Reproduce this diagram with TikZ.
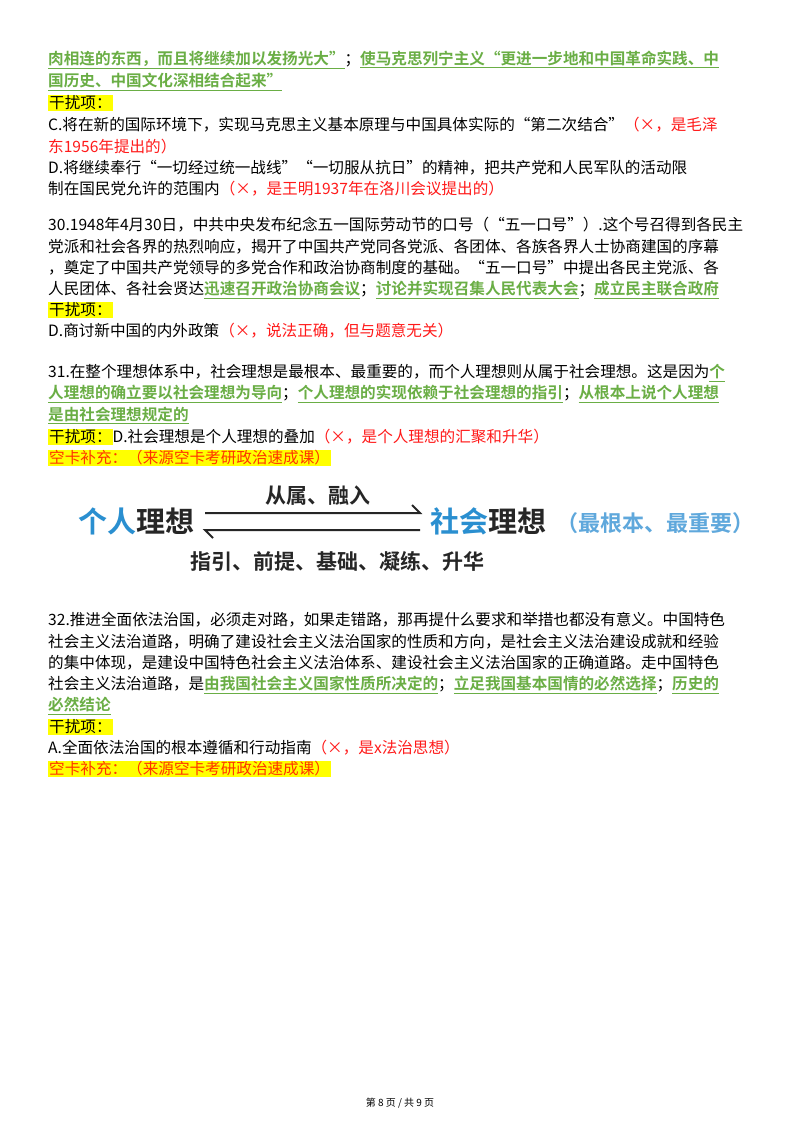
\documentclass[tikz,border=0pt]{standalone}
\usepackage{fontspec}
\setmainfont{Noto Sans CJK SC}
\newfontfamily\cjkb{Noto Sans CJK SC Bold}
\definecolor{gcol}{HTML}{6AAE45}
\definecolor{rcol}{HTML}{FF1A1A}
\definecolor{ocol}{HTML}{FF3300}
\definecolor{bcol}{HTML}{2A8FD0}
\definecolor{lbcol}{HTML}{5FA8DC}
\definecolor{hcol}{HTML}{FFFF00}
\newcommand{\gr}[1]{{\color{gcol}\cjkb\underline{#1}}}
\newcommand{\rd}[1]{{\color{rcol}#1}}
\newcommand{\hl}[1]{{\setlength{\fboxsep}{1pt}\colorbox{hcol}{#1}}}
\begin{document}
\begin{tikzpicture}[x=1pt,y=-1pt,
  ln/.style={anchor=west,inner sep=0pt,font=\fontsize{15.6}{18}\selectfont},
  big/.style={inner sep=0pt,font=\cjkb\fontsize{29}{32}\selectfont},
  lab/.style={inner sep=0pt,font=\cjkb\fontsize{21}{24}\selectfont,text=black!85}]
\useasboundingbox[fill=white] (0,0) rectangle (800,1132);
\node[ln] (a1) at (48,60) {\gr{肉相连的东西，而且将继续加以发扬光大”}；\gr{使马克思列宁主义“更进一步地和中国革命实践、中}};
\node[ln] (a2) at (48,82) {\gr{国历史、中国文化深相结合起来”}};
\node[ln] (a3) at (48,103) {\hl{干扰项：}};
\node[ln] (a4) at (48,125) {C.将在新的国际环境下，实现马克思主义基本原理与中国具体实际的“第二次结合”\rd{（×，是毛泽}};
\node[ln] (a5) at (48,147) {\rd{东1956年提出的）}};
\node[ln] (a6) at (48,168) {D.将继续奉行“一切经过统一战线”“一切服从抗日”的精神，把共产党和人民军队的活动限};
\node[ln] (a7) at (48,189) {制在国民党允许的范围内\rd{（×，是王明1937年在洛川会议提出的）}};
\node[ln] (b1) at (48,225) {30.1948年4月30日，中共中央发布纪念五一国际劳动节的口号（“五一口号”）.这个号召得到各民主};
\node[ln] (b2) at (48,247) {党派和社会各界的热烈响应，揭开了中国共产党同各党派、各团体、各族各界人士协商建国的序幕};
\node[ln] (b3) at (48,268) {，奠定了中国共产党领导的多党合作和政治协商制度的基础。“五一口号”中提出各民主党派、各};
\node[ln] (b4) at (48,290) {人民团体、各社会贤达\gr{迅速召开政治协商会议}；\gr{讨论并实现召集人民代表大会}；\gr{成立民主联合政府}};
\node[ln] (b5) at (48,310) {\hl{干扰项：}};
\node[ln] (b6) at (48,331) {D.商讨新中国的内外政策\rd{（×，说法正确，但与题意无关）}};
\node[ln] (c1) at (48,373) {31.在整个理想体系中，社会理想是最根本、最重要的，而个人理想则从属于社会理想。这是因为\gr{个}};
\node[ln] (c2) at (48,394) {\gr{人理想的确立要以社会理想为导向}；\gr{个人理想的实现依赖于社会理想的指引}；\gr{从根本上说个人理想}};
\node[ln] (c3) at (48,415) {\gr{是由社会理想规定的}};
\node[ln] (c4) at (48,437) {\hl{干扰项：}D.社会理想是个人理想的叠加\rd{（×，是个人理想的汇聚和升华）}};
\node[ln] (c5) at (48,458) {\hl{\color{ocol}空卡补充：（来源空卡考研政治速成课）}};
% diagram
\node[big,text=bcol,anchor=west] (p1) at (78,521) {个人{\color{black!85}理想}};
\node[big,text=bcol,anchor=west] (p2) at (430,521) {社会{\color{black!85}理想}};
\node[inner sep=0pt,anchor=west,font=\cjkb\fontsize{22}{24}\selectfont,text=lbcol] (p3) at (556,523) {（最根本、最重要）};
\coordinate (t1) at (205,513); \coordinate (t2) at (420,513);
\coordinate (u1) at (205,530); \coordinate (u2) at (420,530);
\draw[line width=2pt,black!85] (t1) -- (t2) -- ++(-8,-8);
\draw[line width=2pt,black!85] (u2) -- (u1) -- ++(8,8);
\node[lab] (q1) at (318,496) {从属、融入};
\node[lab] (q2) at (337,561) {指引、前提、基础、凝练、升华};
\node[ln] (d1) at (48,620) {32.推进全面依法治国，必须走对路，如果走错路，那再提什么要求和举措也都没有意义。中国特色};
\node[ln] (d2) at (48,642) {社会主义法治道路，明确了建设社会主义法治国家的性质和方向，是社会主义法治建设成就和经验};
\node[ln] (d3) at (48,663) {的集中体现，是建设中国特色社会主义法治体系、建设社会主义法治国家的正确道路。走中国特色};
\node[ln] (d4) at (48,685) {社会主义法治道路，是\gr{由我国社会主义国家性质所决定的}；\gr{立足我国基本国情的必然选择}；\gr{历史的}};
\node[ln] (d5) at (48,706) {\gr{必然结论}};
\node[ln] (d6) at (48,727) {\hl{干扰项：}};
\node[ln] (d7) at (48,748) {A.全面依法治国的根本遵循和行动指南\rd{（×，是x法治思想）}};
\node[ln] (d8) at (48,769) {\hl{\color{ocol}空卡补充：（来源空卡考研政治速成课）}};
\node[inner sep=0pt,font=\fontsize{10}{12}\selectfont] (ft) at (400,1103) {第 8 页 / 共 9 页};
\end{tikzpicture}
\end{document}
